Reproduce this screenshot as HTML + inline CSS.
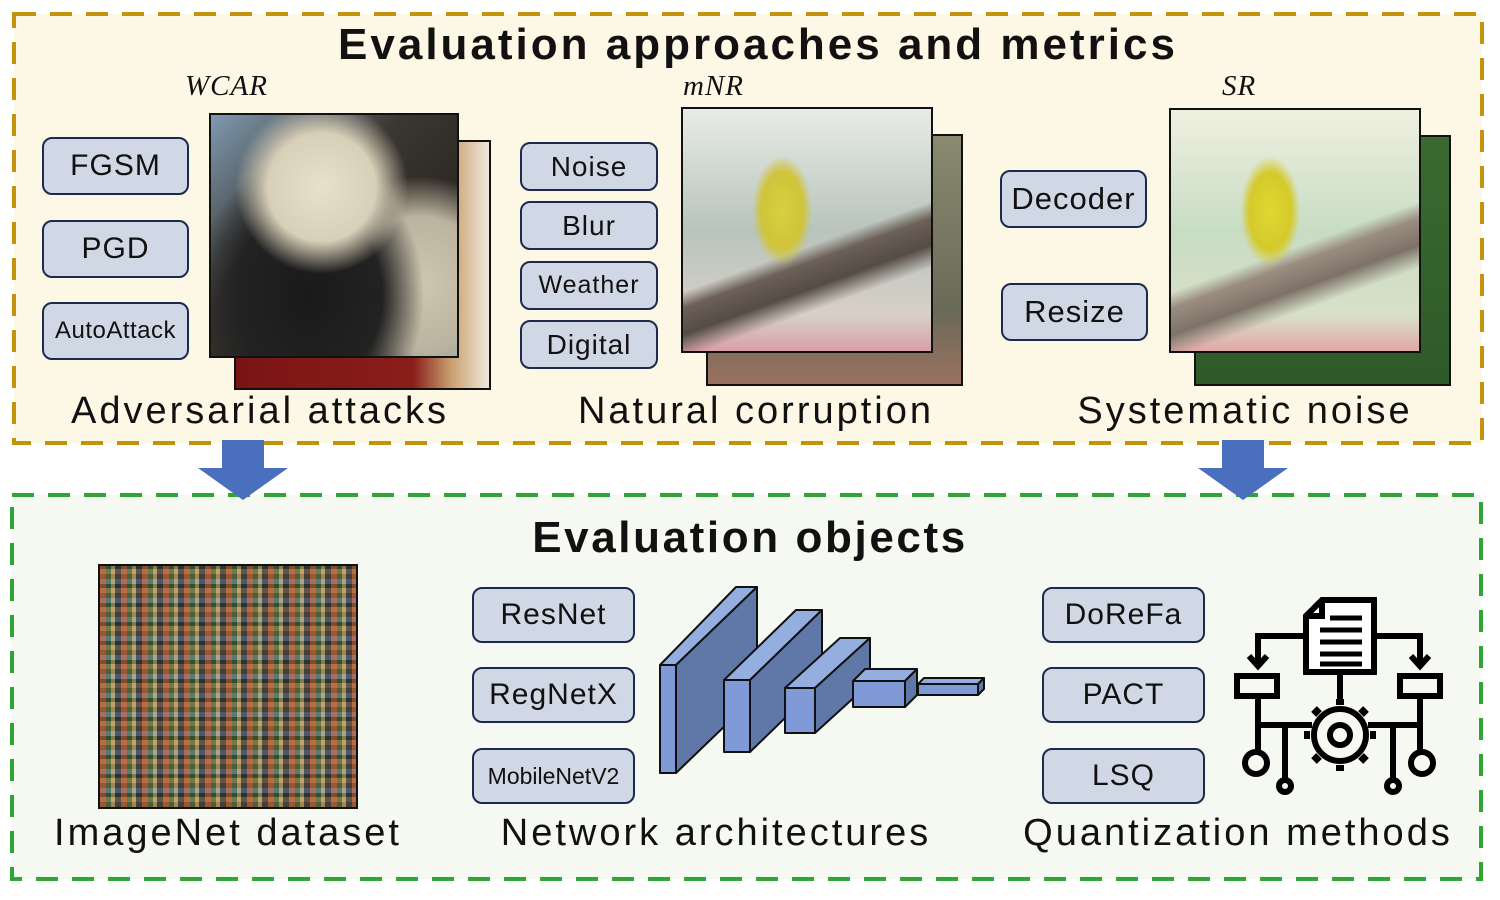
<!DOCTYPE html>
<html><head><meta charset="utf-8"><style>
body{margin:0;width:1500px;height:900px;background:#fff;position:relative;overflow:hidden;font-family:"Liberation Sans",sans-serif}
.a{position:absolute}
.btn{position:absolute;background:#d1d8e5;border:2px solid #1c2a4c;border-radius:10px;box-sizing:border-box;display:flex;align-items:center;justify-content:center;color:#111;font-size:30px;letter-spacing:1px}
.lbl{position:absolute;font-size:38px;color:#111;white-space:nowrap;text-align:center;letter-spacing:3px}
.it{position:absolute;font-family:"Liberation Serif",serif;font-style:italic;font-size:29px;color:#111;letter-spacing:1px}
.img{position:absolute;border:2px solid #111;box-sizing:border-box}
</style></head><body>
<svg class="a" style="left:0;top:0" width="1500" height="900">
<rect x="14" y="14" width="1468" height="429" fill="#fdf7e6" stroke="#c4930c" stroke-width="4" stroke-dasharray="22,14"/>
<rect x="12" y="495" width="1469" height="384" fill="#f6f9f2" stroke="#2ea534" stroke-width="4" stroke-dasharray="22,14"/>
<polygon points="222,440 264,440 264,468 288,468 243,500 198,468 222,468" fill="#4a6fbd"/>
<polygon points="1222,440 1264,440 1264,468 1288,468 1243,500 1198,468 1222,468" fill="#4a6fbd"/>
</svg>
<div class="a" style="left:0;width:1516px;top:20px;text-align:center;font-weight:bold;font-size:44px;color:#111;letter-spacing:3px">Evaluation approaches and metrics</div>
<div class="a" style="left:0;width:1500px;top:513px;text-align:center;font-weight:bold;font-size:44px;color:#111;letter-spacing:2.6px">Evaluation objects</div>
<div class="it" style="left:185px;top:70px">WCAR</div>
<div class="it" style="left:683px;top:70px">mNR</div>
<div class="it" style="left:1222px;top:70px">SR</div>
<!-- panda -->
<div class="img" style="left:234px;top:140px;width:257px;height:250px;background:linear-gradient(90deg,#7a1414,#8a1e1a 70%,#c9a070 85%,#f0e8dc)"></div>
<div class="img" style="left:209px;top:113px;width:250px;height:245px;background:radial-gradient(circle at 45% 30%,#e8e0cc 0,#d8cfb8 25%,transparent 40%),radial-gradient(ellipse at 40% 75%,#1a1a1a 0,#222 35%,transparent 55%),radial-gradient(circle at 85% 70%,#cfc6b0 0,#bbb39f 25%,transparent 40%),linear-gradient(135deg,#7f9ab0,#3a3630 40%,#2a2622 70%,#8aa6bb)"></div>
<!-- bird mNR -->
<div class="img" style="left:706px;top:134px;width:257px;height:252px;background:linear-gradient(180deg,#8a8a70,#6a6a58 70%,#9a7060)"></div>
<div class="img" style="left:681px;top:107px;width:252px;height:246px;background:radial-gradient(ellipse 30px 55px at 40% 42%,#d8d040 0,#cfc43a 70%,transparent 100%),linear-gradient(160deg,transparent 55%,#6c6058 60%,#554c44 68%,transparent 75%),linear-gradient(180deg,#e8ece6,#b8c4bc 50%,#d8d0c8 85%,#d8a0a8)"></div>
<!-- bird SR -->
<div class="img" style="left:1194px;top:135px;width:257px;height:251px;background:linear-gradient(180deg,#3a6a30,#2e5a28)"></div>
<div class="img" style="left:1169px;top:108px;width:252px;height:245px;background:radial-gradient(ellipse 30px 55px at 40% 42%,#e0d830 0,#d4ca2c 70%,transparent 100%),linear-gradient(160deg,transparent 55%,#9a8c80 60%,#7e7268 68%,transparent 75%),linear-gradient(180deg,#f0f0e0,#c8dcc4 50%,#d8e0c8 85%,#e0a8a8)"></div>
<!-- imagenet -->
<div class="img" style="left:98px;top:564px;width:260px;height:245px;background:repeating-linear-gradient(90deg,rgba(200,80,40,.5) 0 6px,rgba(40,90,40,.4) 6px 11px,rgba(230,200,120,.4) 11px 15px,rgba(30,30,50,.5) 15px 21px),repeating-linear-gradient(0deg,#6a6040 0 5px,#a88a60 5px 10px,#3a4a30 10px 14px,#8090a0 14px 19px);border-color:#111"></div>
<!-- buttons -->
<div class="btn" style="left:42px;top:137px;width:147px;height:58px">FGSM</div>
<div class="btn" style="left:42px;top:220px;width:147px;height:58px">PGD</div>
<div class="btn" style="left:42px;top:302px;width:147px;height:58px;font-size:24px;letter-spacing:0.5px">AutoAttack</div>
<div class="btn" style="left:520px;top:142px;width:138px;height:49px;font-size:28px">Noise</div>
<div class="btn" style="left:520px;top:201px;width:138px;height:49px;font-size:28px">Blur</div>
<div class="btn" style="left:520px;top:261px;width:138px;height:49px;font-size:25px">Weather</div>
<div class="btn" style="left:520px;top:320px;width:138px;height:49px;font-size:28px">Digital</div>
<div class="btn" style="left:1000px;top:170px;width:147px;height:58px;font-size:31px">Decoder</div>
<div class="btn" style="left:1001px;top:283px;width:147px;height:58px;font-size:31px">Resize</div>
<div class="btn" style="left:472px;top:587px;width:163px;height:56px">ResNet</div>
<div class="btn" style="left:472px;top:667px;width:163px;height:56px">RegNetX</div>
<div class="btn" style="left:472px;top:748px;width:163px;height:56px;font-size:23px;letter-spacing:0">MobileNetV2</div>
<div class="btn" style="left:1042px;top:587px;width:163px;height:56px">DoReFa</div>
<div class="btn" style="left:1042px;top:667px;width:163px;height:56px">PACT</div>
<div class="btn" style="left:1042px;top:748px;width:163px;height:56px">LSQ</div>
<!-- labels -->
<div class="lbl" style="left:60px;width:400px;top:390px">Adversarial attacks</div>
<div class="lbl" style="left:556px;width:400px;top:390px">Natural corruption</div>
<div class="lbl" style="left:1045px;width:400px;top:390px">Systematic noise</div>
<div class="lbl" style="left:28px;width:400px;top:812px">ImageNet dataset</div>
<div class="lbl" style="left:496px;width:440px;top:812px">Network architectures</div>
<div class="lbl" style="left:1008px;width:460px;top:812px">Quantization methods</div>
<!-- CNN -->
<svg class="a" style="left:0;top:0" width="1500" height="900" stroke="#111" stroke-width="2" stroke-linejoin="round">
<g>
<polygon points="660,665 736,587 757,587 676,665" fill="#95aee0"/>
<polygon points="676,665 757,587 757,695 676,773" fill="#5f78a8"/>
<rect x="660" y="665" width="16" height="108" fill="#7f9ad6"/>
</g>
<g>
<polygon points="724,680 796,610 822,610 750,680" fill="#95aee0"/>
<polygon points="750,680 822,610 822,682 750,752" fill="#5f78a8"/>
<rect x="724" y="680" width="26" height="72" fill="#7f9ad6"/>
</g>
<g>
<polygon points="785,688 840,638 870,638 815,688" fill="#95aee0"/>
<polygon points="815,688 870,638 870,683 815,733" fill="#5f78a8"/>
<rect x="785" y="688" width="30" height="45" fill="#7f9ad6"/>
</g>
<g>
<polygon points="853,681 865,669 917,669 905,681" fill="#95aee0"/>
<polygon points="905,681 917,669 917,695 905,707" fill="#5f78a8"/>
<rect x="853" y="681" width="52" height="26" fill="#7f9ad6"/>
</g>
<g>
<polygon points="918,684 924,678 984,678 978,684" fill="#95aee0"/>
<polygon points="978,684 984,678 984,689 978,695" fill="#5f78a8"/>
<rect x="918" y="684" width="60" height="11" fill="#7f9ad6"/>
</g>
</svg>
<!-- quantization icon -->
<svg class="a" style="left:0;top:0" width="1500" height="900" fill="none" stroke="#000" stroke-width="6">
<path d="M1322,600 L1374,600 L1374,672 L1306,672 L1306,616 Z" fill="#fff"/>
<path d="M1306,616 L1322,616 L1322,600" />
<path d="M1330,618h32M1320,630h42M1320,642h42M1320,654h42M1320,664h42" stroke-width="5"/>
<path d="M1306,636 H1258 V664 M1374,636 H1420 V664"/>
<path d="M1249,656 L1258,666 L1267,656 M1411,656 L1420,666 L1429,656"/>
<rect x="1237" y="676" width="40" height="20"/>
<rect x="1400" y="676" width="40" height="20"/>
<path d="M1340,672 V704"/>
<circle cx="1340" cy="735" r="26"/>
<circle cx="1340" cy="735" r="10"/>
<path d="M1340,705v-6M1340,765v6M1310,735h-6M1370,735h6M1319,714l-5,-5M1361,756l5,5M1361,714l5,-5M1319,756l-5,5" stroke-width="8"/>
<path d="M1258,696 V750 M1420,696 V750 M1258,725 H1312 M1368,725 H1420 M1285,725 V780 M1393,725 V780"/>
<circle cx="1256" cy="763" r="11"/>
<circle cx="1422" cy="763" r="11"/>
<circle cx="1285" cy="786" r="6"/>
<circle cx="1393" cy="786" r="6"/>
</svg>
</body></html>
